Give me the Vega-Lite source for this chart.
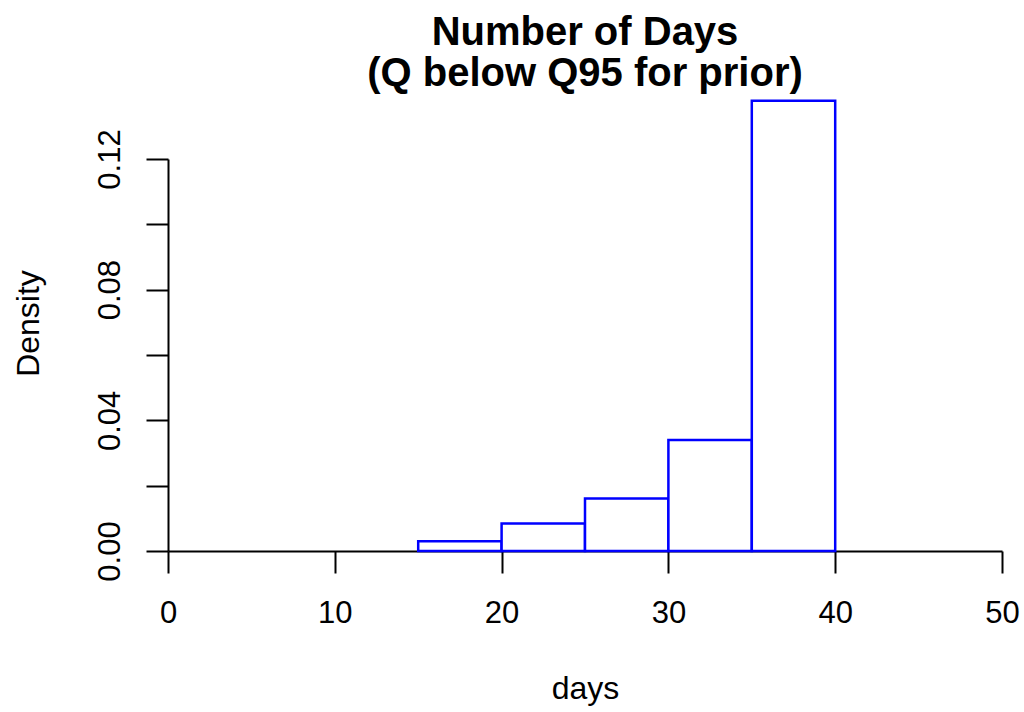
{
  "$schema": "https://vega.github.io/schema/vega-lite/v6.json",
  "width": 834,
  "height": 392,
  "autosize": {"type": "none"},
  "padding": {"left": 168, "top": 159, "right": 22, "bottom": 161},
  "background": "white",
  "config": {
    "view": {"stroke": null},
    "font": "Liberation Sans"
  },
  "title": {
    "text": ["Number of Days", "(Q below Q95 for prior)"],
    "font": "Liberation Sans",
    "fontSize": 40,
    "fontWeight": "bold",
    "color": "black",
    "anchor": "middle",
    "lineHeight": 41,
    "offset": 6
  },
  "data": {
    "values": [
      {"bin_start": 15, "bin_end": 20, "density": 0.003},
      {"bin_start": 20, "bin_end": 25, "density": 0.0084},
      {"bin_start": 25, "bin_end": 30, "density": 0.0161},
      {"bin_start": 30, "bin_end": 35, "density": 0.034},
      {"bin_start": 35, "bin_end": 40, "density": 0.1378}
    ]
  },
  "mark": {"type": "rect", "fill": "white", "stroke": "#0000FF", "strokeWidth": 2.5, "clip": false},
  "encoding": {
    "x": {
      "field": "bin_start",
      "type": "quantitative",
      "scale": {"domain": [0, 50], "nice": false, "zero": false},
      "axis": {
        "title": "days",
        "values": [0, 10, 20, 30, 40, 50],
        "grid": false,
        "domainColor": "black",
        "domainWidth": 2,
        "tickColor": "black",
        "tickWidth": 2,
        "tickSize": 22,
        "labelFont": "Liberation Sans",
        "labelFontSize": 31,
        "labelColor": "black",
        "labelPadding": 25,
        "labelFlush": false,
        "labelOverlap": false,
        "titleFont": "Liberation Sans",
        "titleFontSize": 32,
        "titleFontWeight": "normal",
        "titleColor": "black",
        "titleBaseline": "alphabetic",
        "titleX": 417,
        "titleY": 147
      }
    },
    "x2": {"field": "bin_end"},
    "y": {
      "field": "density",
      "type": "quantitative",
      "scale": {"domain": [0, 0.12], "nice": false},
      "axis": {
        "title": "Density",
        "values": [0, 0.02, 0.04, 0.06, 0.08, 0.1, 0.12],
        "labelExpr": "round(datum.value * 100) % 4 == 0 ? format(datum.value, '.2f') : ''",
        "grid": false,
        "domainColor": "black",
        "domainWidth": 2,
        "tickColor": "black",
        "tickWidth": 2,
        "tickSize": 22,
        "labelAngle": 270,
        "labelAlign": "center",
        "labelBaseline": "bottom",
        "labelFont": "Liberation Sans",
        "labelFontSize": 31,
        "labelColor": "black",
        "labelPadding": 20,
        "labelFlush": false,
        "labelOverlap": false,
        "titleFont": "Liberation Sans",
        "titleFontSize": 32,
        "titleFontWeight": "normal",
        "titleColor": "black",
        "titleAngle": 270,
        "titleAlign": "center",
        "titleBaseline": "alphabetic",
        "titleX": -130,
        "titleY": 164
      }
    },
    "y2": {"datum": 0}
  }
}
